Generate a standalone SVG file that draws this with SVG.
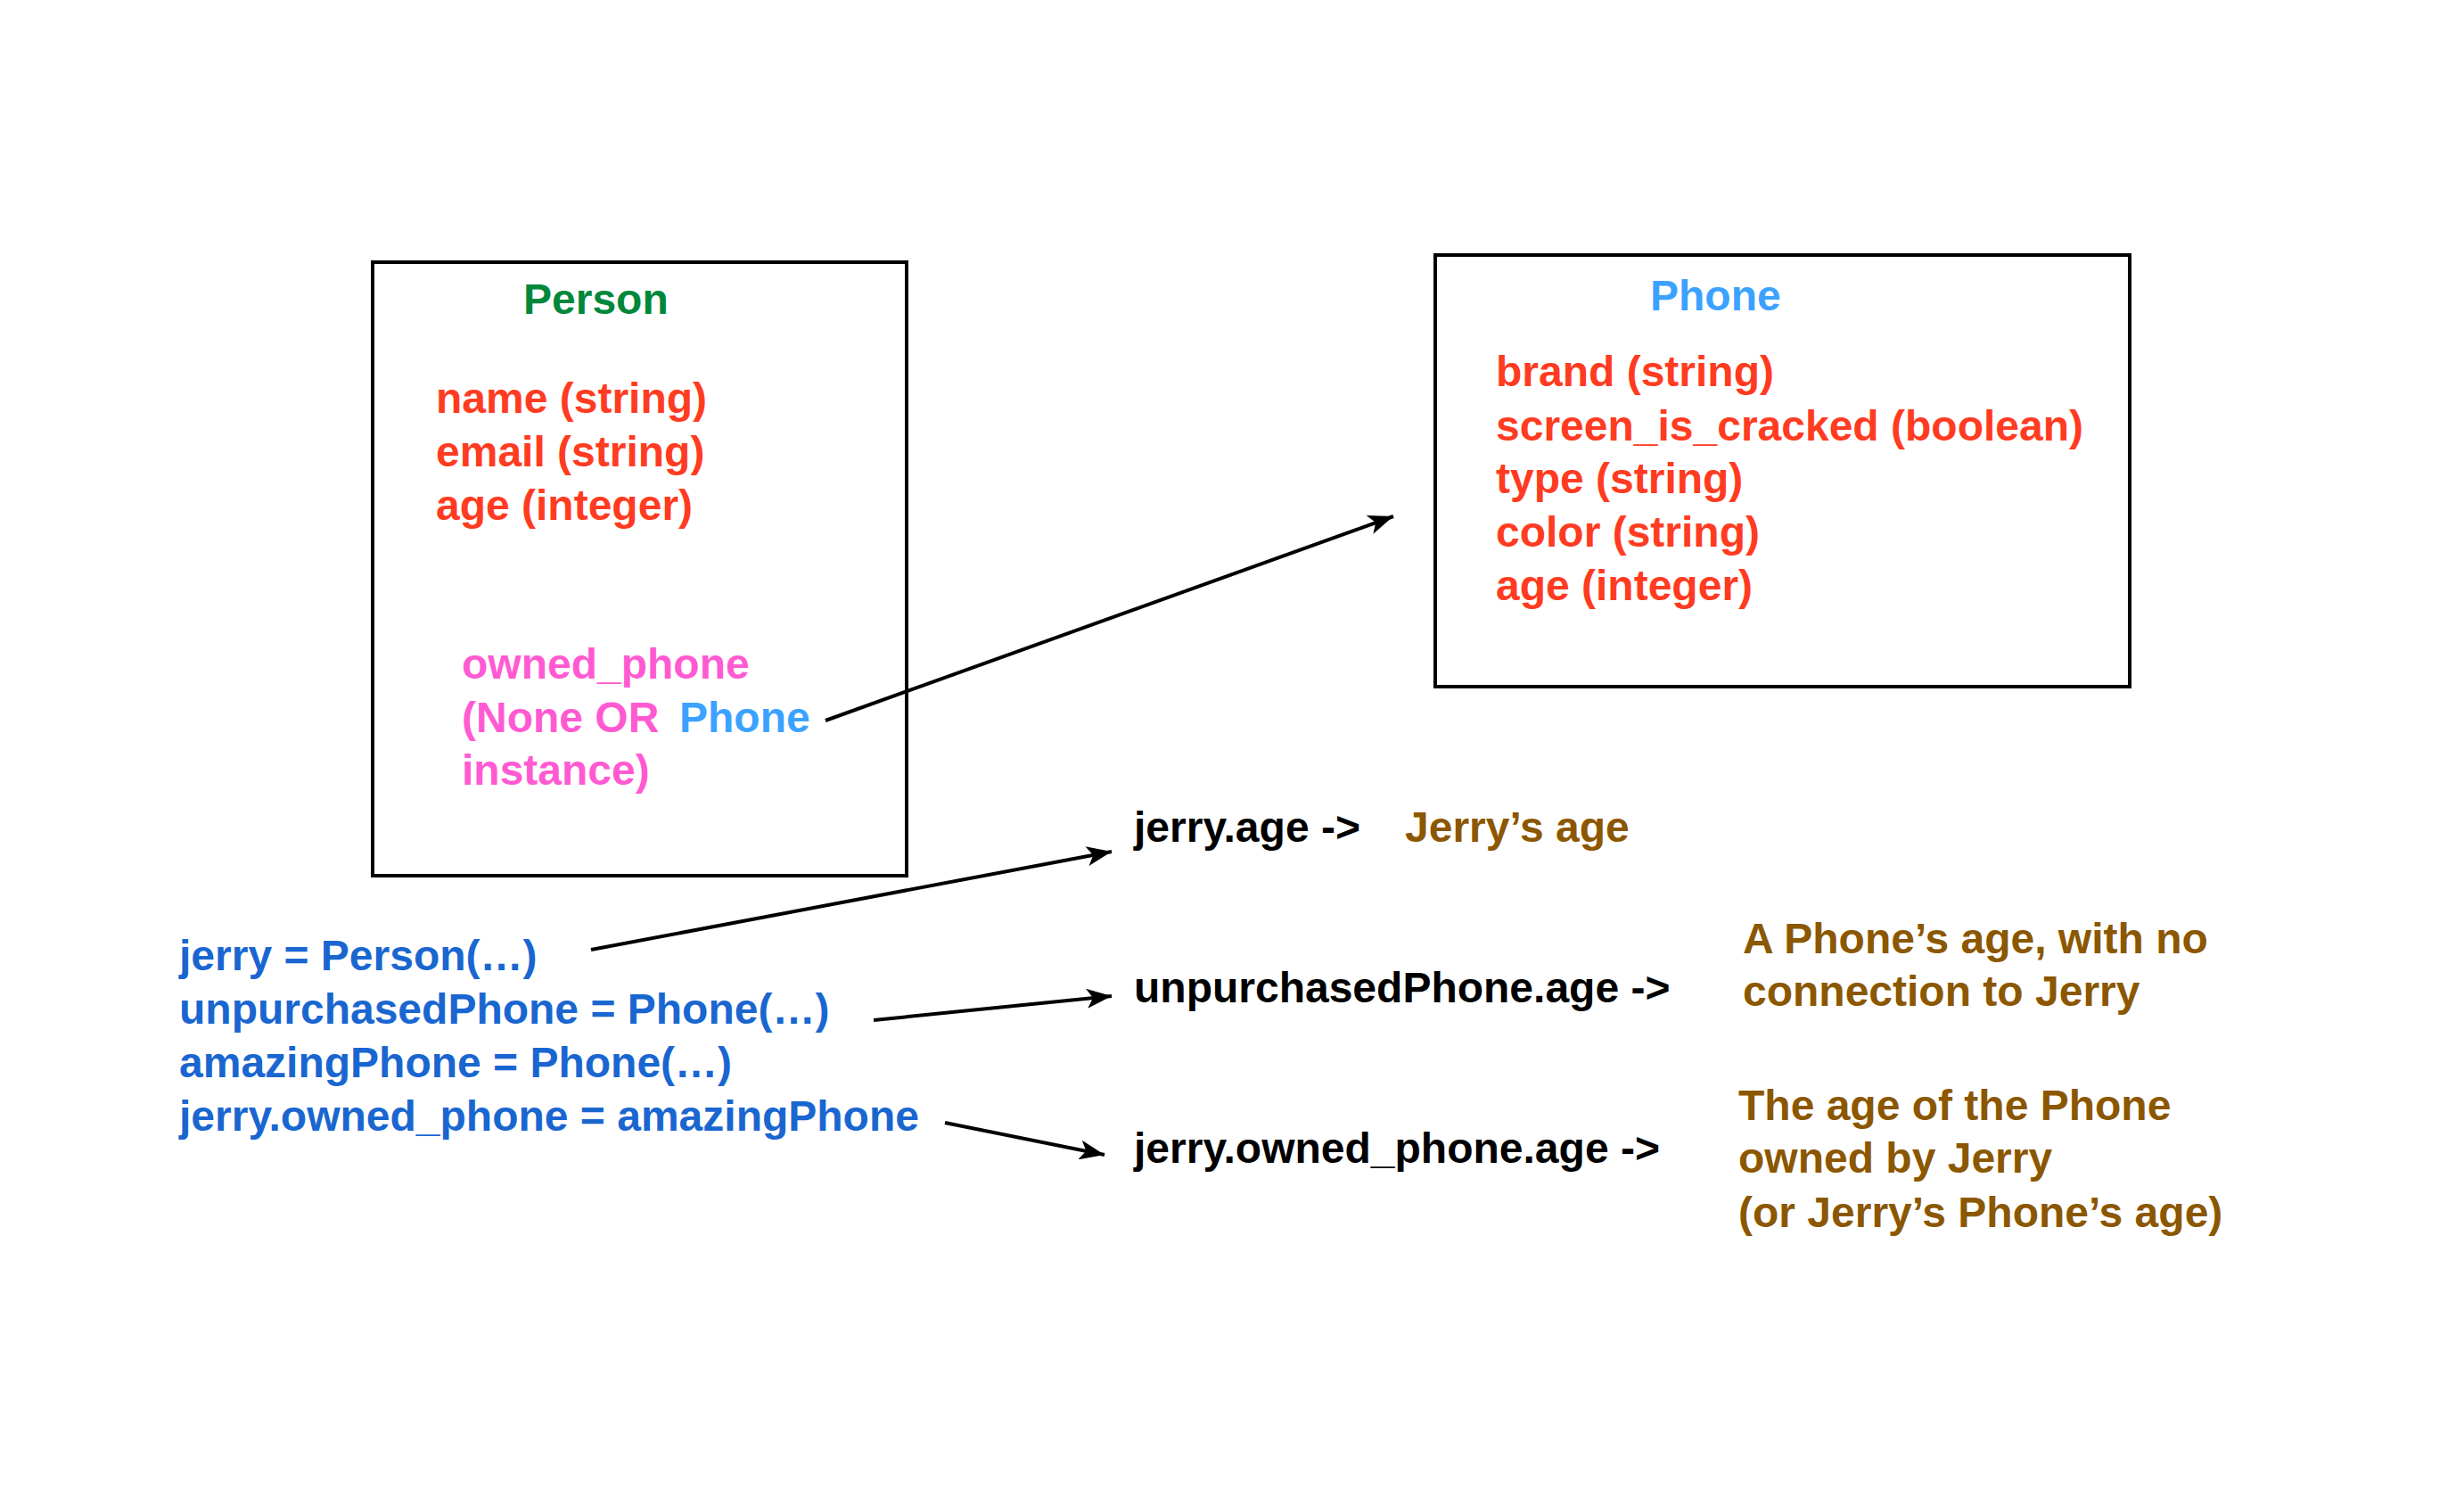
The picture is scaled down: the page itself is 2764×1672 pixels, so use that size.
<svg xmlns="http://www.w3.org/2000/svg" width="2764" height="1672" viewBox="0 0 2764 1672">
<style>
text{font-family:"Liberation Sans",Arial,Helvetica,sans-serif;font-weight:bold;font-size:48px}
.box{fill:none;stroke:#000;stroke-width:4}
.red{fill:#FF3B21}.pink{fill:#FF5AD2}.lblue{fill:#3CA2FF}.green{fill:#00883A}
.code{fill:#1A66D0}.brown{fill:#8B5700}.blk{fill:#000}
.conn{stroke:#000;stroke-width:4;fill:none;marker-end:url(#ah)}
</style>
<defs>
<marker id="ah" markerUnits="userSpaceOnUse" markerWidth="30" markerHeight="22" refX="28" refY="11" orient="auto">
<path d="M0,0 L28,11 L0,22 L7,11 z" fill="#000"/>
</marker>
</defs>
<rect width="2764" height="1672" fill="#fff"/>
<g id="person">
<rect class="box" x="418" y="294" width="599" height="688"/>
<text class="green" x="587" y="352">Person</text>
<text class="red" x="489" y="463">name (string)</text>
<text class="red" x="489" y="523">email (string)</text>
<text class="red" x="489" y="583">age (integer)</text>
<text class="pink" x="518" y="761">owned_phone</text>
<text class="pink" x="518" y="821">(None OR <tspan class="lblue" x="762">Phone</tspan></text>
<text class="pink" x="518" y="880">instance)</text>
</g>
<g id="phone">
<rect class="box" x="1610" y="286" width="779" height="484"/>
<text class="lblue" x="1851" y="348">Phone</text>
<text class="red" x="1678" y="433">brand (string)</text>
<text class="red" x="1678" y="494">screen_is_cracked (boolean)</text>
<text class="red" x="1678" y="553">type (string)</text>
<text class="red" x="1678" y="613">color (string)</text>
<text class="red" x="1678" y="673">age (integer)</text>
</g>
<g id="code">
<text class="code" x="201" y="1088">jerry = Person(…)</text>
<text class="code" x="201" y="1148">unpurchasedPhone = Phone(…)</text>
<text class="code" x="201" y="1208">amazingPhone = Phone(…)</text>
<text class="code" x="201" y="1268">jerry.owned_phone = amazingPhone</text>
</g>
<g id="jerry-age">
<text class="blk" x="1272" y="944">jerry.age -&gt;</text>
<text class="brown" x="1576" y="944">Jerry’s age</text>
</g>
<g id="unpurchased-age">
<text class="blk" x="1272" y="1124">unpurchasedPhone.age -&gt;</text>
<text class="brown" x="1955" y="1069">A Phone’s age, with no</text>
<text class="brown" x="1955" y="1128">connection to Jerry</text>
</g>
<g id="owned-age">
<text class="blk" x="1272" y="1304">jerry.owned_phone.age -&gt;</text>
<text class="brown" x="1950" y="1256">The age of the Phone</text>
<text class="brown" x="1950" y="1315">owned by Jerry</text>
<text class="brown" x="1950" y="1376">(or Jerry’s Phone’s age)</text>
</g>
<g id="connectors">
<line class="conn" x1="926" y1="808" x2="1563" y2="579"/>
<line class="conn" x1="663" y1="1065" x2="1247" y2="955"/>
<line class="conn" x1="980" y1="1144" x2="1247" y2="1117"/>
<line class="conn" x1="1060" y1="1259" x2="1239" y2="1295"/>
</g>
</svg>
